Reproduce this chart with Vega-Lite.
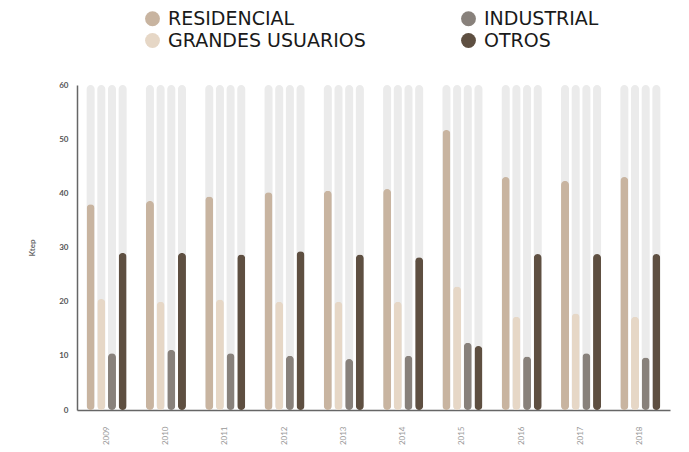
{
  "$schema": "https://vega.github.io/schema/vega-lite/v6.json",
  "width": 593,
  "height": 325,
  "autosize": {"type": "none"},
  "padding": {"left": 77, "top": 85, "right": 19, "bottom": 42},
  "background": "white",
  "config": {
    "view": {"stroke": null},
    "font": "Lato"
  },
  "data": {
    "values": [
      {"year": "2009", "cat": "RESIDENCIAL", "v": 38},
      {"year": "2009", "cat": "GRANDES USUARIOS", "v": 20.5},
      {"year": "2009", "cat": "INDUSTRIAL", "v": 10.5},
      {"year": "2009", "cat": "OTROS", "v": 29},
      {"year": "2010", "cat": "RESIDENCIAL", "v": 38.6},
      {"year": "2010", "cat": "GRANDES USUARIOS", "v": 20},
      {"year": "2010", "cat": "INDUSTRIAL", "v": 11.1},
      {"year": "2010", "cat": "OTROS", "v": 29},
      {"year": "2011", "cat": "RESIDENCIAL", "v": 39.4},
      {"year": "2011", "cat": "GRANDES USUARIOS", "v": 20.4},
      {"year": "2011", "cat": "INDUSTRIAL", "v": 10.5},
      {"year": "2011", "cat": "OTROS", "v": 28.7},
      {"year": "2012", "cat": "RESIDENCIAL", "v": 40.2},
      {"year": "2012", "cat": "GRANDES USUARIOS", "v": 20},
      {"year": "2012", "cat": "INDUSTRIAL", "v": 10},
      {"year": "2012", "cat": "OTROS", "v": 29.3},
      {"year": "2013", "cat": "RESIDENCIAL", "v": 40.5},
      {"year": "2013", "cat": "GRANDES USUARIOS", "v": 20},
      {"year": "2013", "cat": "INDUSTRIAL", "v": 9.4},
      {"year": "2013", "cat": "OTROS", "v": 28.7},
      {"year": "2014", "cat": "RESIDENCIAL", "v": 40.8},
      {"year": "2014", "cat": "GRANDES USUARIOS", "v": 20},
      {"year": "2014", "cat": "INDUSTRIAL", "v": 10},
      {"year": "2014", "cat": "OTROS", "v": 28.2},
      {"year": "2015", "cat": "RESIDENCIAL", "v": 51.7},
      {"year": "2015", "cat": "GRANDES USUARIOS", "v": 22.8},
      {"year": "2015", "cat": "INDUSTRIAL", "v": 12.4},
      {"year": "2015", "cat": "OTROS", "v": 11.8},
      {"year": "2016", "cat": "RESIDENCIAL", "v": 43},
      {"year": "2016", "cat": "GRANDES USUARIOS", "v": 17.2},
      {"year": "2016", "cat": "INDUSTRIAL", "v": 9.9},
      {"year": "2016", "cat": "OTROS", "v": 28.8},
      {"year": "2017", "cat": "RESIDENCIAL", "v": 42.3},
      {"year": "2017", "cat": "GRANDES USUARIOS", "v": 17.8},
      {"year": "2017", "cat": "INDUSTRIAL", "v": 10.5},
      {"year": "2017", "cat": "OTROS", "v": 28.8},
      {"year": "2018", "cat": "RESIDENCIAL", "v": 43},
      {"year": "2018", "cat": "GRANDES USUARIOS", "v": 17.2},
      {"year": "2018", "cat": "INDUSTRIAL", "v": 9.7},
      {"year": "2018", "cat": "OTROS", "v": 28.8}
    ]
  },
  "encoding": {
    "x": {
      "field": "year",
      "type": "ordinal",
      "scale": {"paddingInner": 0.28, "paddingOuter": 0.14},
      "axis": {
        "title": null,
        "labelAngle": -90,
        "labelFontSize": 8,
        "labelColor": "#999999",
        "labelPadding": 16,
        "ticks": false,
        "domainColor": "#666666",
        "domainWidth": 1.5,
        "grid": false
      }
    },
    "xOffset": {
      "field": "cat",
      "type": "nominal",
      "sort": ["RESIDENCIAL", "GRANDES USUARIOS", "INDUSTRIAL", "OTROS"],
      "scale": {"paddingInner": 0, "paddingOuter": 0}
    }
  },
  "layer": [
    {
      "mark": {"type": "bar", "width": 8, "cornerRadius": 4, "color": "#ebebeb"},
      "encoding": {
        "y": {
          "datum": 60,
          "type": "quantitative",
          "scale": {"domain": [0, 60]},
          "axis": {
            "title": "Ktep",
            "titleFontSize": 8,
            "titleColor": "#666666",
            "titleFontWeight": "bold",
            "titlePadding": 22,
            "values": [0, 10, 20, 30, 40, 50, 60],
            "labelFontSize": 8,
            "labelFontWeight": "bold",
            "labelColor": "#555555",
            "labelPadding": 9,
            "ticks": false,
            "domainColor": "#666666",
            "domainWidth": 1.5,
            "gridColor": "#efefef",
            "gridWidth": 1
          }
        }
      }
    },
    {
      "mark": {"type": "bar", "width": 8, "cornerRadius": 4},
      "encoding": {
        "y": {"field": "v", "type": "quantitative"},
        "color": {
          "field": "cat",
          "type": "nominal",
          "scale": {
            "domain": ["RESIDENCIAL", "GRANDES USUARIOS", "INDUSTRIAL", "OTROS"],
            "range": ["#c8b4a0", "#e6d7c6", "#88817b", "#5e4f41"]
          },
          "legend": {
            "title": null,
            "orient": "none",
            "legendX": 66,
            "legendY": -76,
            "columns": 2,
            "columnPadding": 93,
            "rowPadding": 2,
            "symbolType": "circle",
            "symbolSize": 220,
            "symbolStrokeWidth": 0,
            "labelFont": "DejaVu Sans",
            "labelFontSize": 19,
            "labelColor": "#1a1a1a",
            "labelLimit": 400,
            "labelOffset": 6
          }
        }
      }
    }
  ]
}
